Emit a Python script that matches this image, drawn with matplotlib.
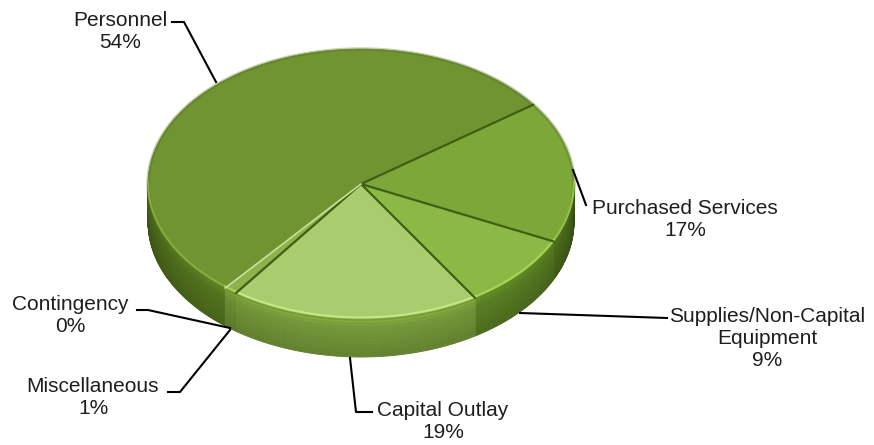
import matplotlib.pyplot as plt
import numpy as np
from matplotlib.colors import to_rgb

plt.rcParams['font.family'] = ['Liberation Sans', 'DejaVu Sans']

categories = ['Personnel', 'Purchased Services', 'Supplies/Non-Capital\nEquipment',
              'Capital Outlay', 'Miscellaneous', 'Contingency']
shares = [54, 17, 9, 19, 1, 0]
top_colors = ['#6f9431', '#7ea73a', '#8cb946', '#a9cc6f', '#8fb24c', '#8fb24c']
side_colors = ['#52721d', '#4f701c', '#567b21', '#6e9035', '#6a8a30', '#6a8a30']

# geometry in pixel space (axes spans the whole figure)
cx, cy = 361, 184
rx, ry = 213, 135
depth = 38
start = 230.4

fig = plt.figure(figsize=(8.74, 4.45), dpi=100)
ax = fig.add_axes([0, 0, 1, 1])
ax.set_xlim(0, 874)
ax.set_ylim(445, 0)
ax.axis('off')


def pt(theta, dy=0):
    t = np.radians(theta)
    return cx + rx * np.cos(t), cy - ry * np.sin(t) + dy


fr = np.array(shares, dtype=float) / sum(shares)
ends = start - np.cumsum(fr) * 360
starts = np.concatenate([[start], ends[:-1]])

# side wall: only the front half (180..360 deg) shows, shaded top to bottom
nb = 10
edges = np.linspace(0, 1, nb + 1)
gains = np.interp((edges[:-1] + edges[1:]) / 2, [0, 0.2, 1], [1.18, 1.02, 0.86])
for a0, a1, col in zip(starts, ends, side_colors):
    if a0 == a1:
        continue
    base = np.array(to_rgb(col))
    for k in (-360, 0, 360):
        lo, hi = max(a1 + k, 180), min(a0 + k, 360)
        if hi <= lo:
            continue
        steps = np.linspace(lo, hi, max(int((hi - lo) * 2), 2))
        for t0, t1 in zip(steps[:-1], steps[1:]):
            tm = np.radians((t0 + t1) / 2)
            f = 0.75 + 0.3 * max(-np.sin(tm), 0) ** 0.6
            x0, y0 = pt(t0)
            x1, y1 = pt(t1)
            for b0, b1, g in zip(edges[:-1], edges[1:], gains):
                c = np.clip(base * f * g, 0, 1)
                ax.fill([x0, x1, x1, x0],
                        [y0 + b0 * depth, y1 + b0 * depth, y1 + b1 * depth, y0 + b1 * depth],
                        color=c, lw=0.6, ec=c)

# top faces
for a0, a1, col in zip(starts, ends, top_colors):
    if a0 == a1:
        continue
    th = np.linspace(a0, a1, 200)
    xs, ys = pt(th)
    ax.fill(np.concatenate([[cx], xs]), np.concatenate([[cy], ys]),
            color=col, lw=0.5, ec=col)

# soft rim on the top edge
th = np.linspace(0, 360, 400)
xs, ys = pt(th)
ax.plot(xs, ys, color='#4d6b1a', lw=2.5, alpha=0.3)

# light bevel along the front edge of each top face
for a0, a1, col in zip(starts, ends, top_colors):
    for k in (-360, 0, 360):
        lo, hi = max(a1 + k, 180), min(a0 + k, 360)
        if hi <= lo:
            continue
        th = np.linspace(lo, hi, 100)
        xs, ys = pt(th, dy=-1.5)
        hl = np.clip(np.array(to_rgb(col)) * 1.15 + 0.05, 0, 1)
        ax.plot(xs, ys, color=hl, lw=1.5, alpha=0.8)

# slice borders
for a in starts[1:5]:
    x, y = pt(a)
    ax.plot([cx, x], [cy, y], color='#3f5e12', lw=1.6, solid_capstyle='round')
x, y = pt(start)
ax.plot([cx, x], [cy, y], color='#c8e09a', lw=1.2)

# labels and leader lines
label_pos = [(120, 32), (685, 219), (767, 338), (443, 421), (93, 397), (70, 315)]
leaders = [
    [(172, 22), (184, 22), (216, 82)],
    [(573, 170), (586, 205)],
    [(520, 313), (667, 318)],
    [(350, 358), (356, 412), (372, 412)],
    [(168, 392), (180, 392), (230, 330)],
    [(137, 310), (148, 310), (230, 328)],
]
for name, val, (lx, ly), ld in zip(categories, shares, label_pos, leaders):
    ax.text(lx, ly, f'{name}\n{val}%', ha='center', va='center',
            fontsize=15, color='#1e1e1e', linespacing=1.2)
    xs_, ys_ = zip(*ld)
    ax.plot(xs_, ys_, color='black', lw=1.5)

fig.savefig('out.png', dpi=100, facecolor='white')
